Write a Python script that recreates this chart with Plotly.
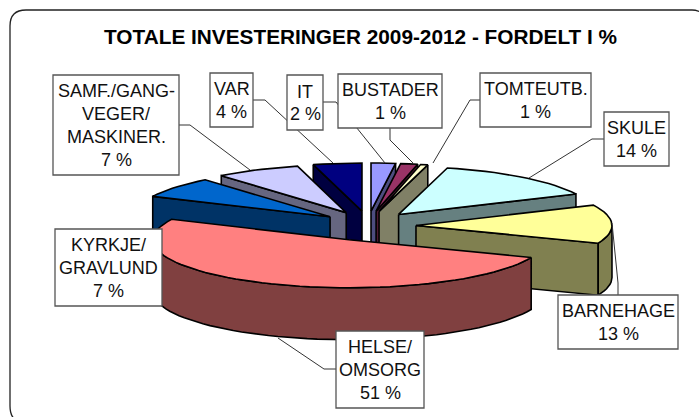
import math
import plotly.graph_objects as go

# ---- data ----
categories = ["IT", "BUSTADER", "TOMTEUTB.", "SKULE", "BARNEHAGE", "HELSE/OMSORG", "KYRKJE/GRAVLUND", "SAMF./GANG-VEGER/MASKINER.", "VAR"]
values = [2.0, 1.4, 0.6, 14, 13, 51, 7, 7, 4]
top_colors = ["#9999FF", "#993366", "#FFFFCC", "#CCFFFF", "#FFFF99", "#FF8080", "#0066CC", "#CCCCFF", "#000080"]
wall_colors = ["#4D4D80", "#4D1A33", "#808066", "#668080", "#808050", "#804040", "#003366", "#666680", "#000040"]
label_lines = [
    ["IT"], ["BUSTADER"], ["TOMTEUTB."], ["SKULE"], ["BARNEHAGE"],
    ["HELSE/", "OMSORG"], ["KYRKJE/", "GRAVLUND"], ["SAMF./GANG-", "VEGER/", "MASKINER."], ["VAR"],
]
title = "TOTALE INVESTERINGER 2009-2012 - FORDELT I %"

# ---- layout of the drawing (pixels) ----
W, H = 699, 417
CX, CY = 368, 226
RX, RY = 196, 48
EX, EY = 48, 15
DEPTH = 52
boxes = [  # x0, x1, y0, y1 per category
    (287, 323, 75, 130), (338, 442, 74, 128), (480, 591, 73, 127), (604, 669, 112, 166),
    (558, 678, 295, 349), (336, 424, 331, 408), (55, 162, 229, 306), (53, 179, 75, 175), (210, 253, 73, 127),
]
leaders = [
    [(323, 102), (336, 102), (385, 163)],
    [(390, 128), (390, 140), (413, 163)],
    [(480, 100), (470, 100), (433, 163)],
    [(604, 139), (592, 139), (529, 178)],
    [(618, 295), (618, 283), (612, 223)],
    [(336, 369), (324, 369), (278, 338)],
    [(179, 125), (190, 125), (250, 170)],
    [(253, 100), (265, 100), (333, 163)],
]
draw_order = [8, 7, 6, 0, 1, 2, 3, 4, 5]

total = sum(values)
spans = []
acc = 0.0
for v in values:
    spans.append((acc / total * 360, (acc + v) / total * 360))
    acc += v

def rim(ax, ay, deg):
    t = math.radians(deg)
    return ax + RX * math.sin(t), ay - RY * math.cos(t)

def arc(ax, ay, a, b, drop=0):
    n = max(2, int(abs(b - a) / 3) + 2)
    pts = [rim(ax, ay, a + (b - a) * i / (n - 1)) for i in range(n)]
    return [(x, y + drop) for x, y in pts]

fig = go.Figure()

def poly(pts, color):
    xs = [p[0] for p in pts] + [pts[0][0]]
    ys = [p[1] for p in pts] + [pts[0][1]]
    fig.add_trace(go.Scatter(x=xs, y=ys, mode="lines", fill="toself", fillcolor=color,
                             line=dict(color="black", width=1.6), hoverinfo="skip", showlegend=False))

for i in draw_order:
    a, b = spans[i]
    mid = math.radians((a + b) / 2)
    ax = CX + EX * math.sin(mid)
    ay = CY - EY * math.cos(mid)
    # radial walls facing the viewer
    if 180 < a < 360:
        p = rim(ax, ay, a)
        poly([(ax, ay), p, (p[0], p[1] + DEPTH), (ax, ay + DEPTH)], wall_colors[i])
    if 0 < b < 180:
        p = rim(ax, ay, b)
        poly([(ax, ay), p, (p[0], p[1] + DEPTH), (ax, ay + DEPTH)], wall_colors[i])
    # outer wall on the front half
    fa, fb = max(a, 90), min(b, 270)
    if fa < fb:
        poly(arc(ax, ay, fa, fb) + arc(ax, ay, fb, fa, DEPTH), wall_colors[i])
    # top face
    poly([(ax, ay)] + arc(ax, ay, a, b), top_colors[i])

shapes = []
R = 16
shapes.append(dict(type="path", xref="x", yref="y", layer="below",
                   path=f"M 24 422 Q 10 422 10 406 L 10 {10+R} Q 10 10 {10+R} 10 L 692 10 Q 699 10 708 16",
                   line=dict(color="#222222", width=1.3)))
for pts in leaders:
    path = "M " + " L ".join(f"{x} {y}" for x, y in pts)
    shapes.append(dict(type="path", xref="x", yref="y", layer="above", path=path,
                       line=dict(color="#333333", width=1)))

annotations = []
LS = 22.8
FS = 18
for i, (x0, x1, y0, y1) in enumerate(boxes):
    shapes.append(dict(type="rect", xref="x", yref="y", layer="above", x0=x0, x1=x1, y0=y0, y1=y1,
                       fillcolor="white", line=dict(color="#555555", width=1.3)))
    lines = label_lines[i] + [f"{round(values[i])} %"]
    ymid = (y0 + y1) / 2 + 0.5
    for k, s in enumerate(lines):
        annotations.append(dict(x=(x0 + x1) / 2, y=ymid + (k - (len(lines) - 1) / 2) * LS, text=s,
                                xref="x", yref="y", showarrow=False, xanchor="center", yanchor="middle",
                                font=dict(family="Liberation Sans", size=FS, color="#111111")))
annotations.append(dict(x=360, y=36, text=f"<b>{title}</b>", xref="x", yref="y", showarrow=False,
                        xanchor="center", yanchor="middle",
                        font=dict(family="Liberation Sans", size=20.8, color="black")))

fig.update_layout(
    width=W, height=H, margin=dict(l=0, r=0, t=0, b=0, pad=0),
    paper_bgcolor="white", plot_bgcolor="white", showlegend=False,
    xaxis=dict(range=[0, W], visible=False, fixedrange=True),
    yaxis=dict(range=[H, 0], visible=False, fixedrange=True),
    shapes=shapes, annotations=annotations,
)
fig.write_html("out.html", config={"displayModeBar": False, "responsive": False},
               post_script="document.body.style.margin='0';document.body.style.overflow='hidden';")
